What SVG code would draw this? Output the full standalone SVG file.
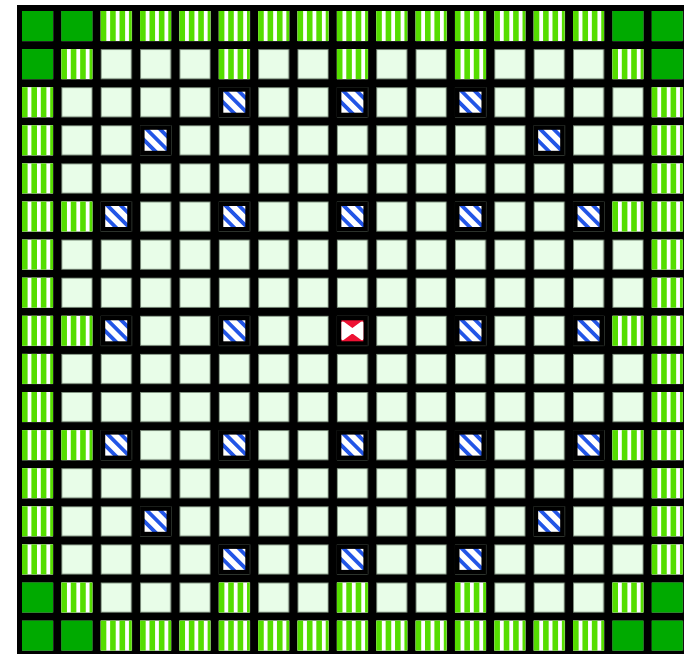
<svg xmlns="http://www.w3.org/2000/svg" xmlns:xlink="http://www.w3.org/1999/xlink" width="684" height="654" viewBox="0 0 684 654">
<defs>
<style>
.dark{fill:#00aa00}
.sg{fill:#55dd00}
.sw{fill:#ffffff}
</style>
<pattern id="pale" patternUnits="userSpaceOnUse" x="22" y="11" width="39.36" height="38.1">
<rect x="0.4" y="0.4" width="30.2" height="29.2" fill="#e8fde8" stroke="#7f927f" stroke-width="0.8"/>
</pattern>
<pattern id="blueStripe" patternUnits="userSpaceOnUse" width="9.5" height="9.5" patternTransform="rotate(-45)">
<rect width="9.5" height="9.5" fill="#ffffff"/>
<rect width="3.8" height="9.5" fill="#2255e6"/>
</pattern>
<clipPath id="redClip"><rect x="4.5" y="4.5" width="22" height="21"/></clipPath>
<g id="D"><rect width="31" height="30" class="dark"/></g>
<g id="S">
<rect width="31" height="30" class="sw"/>
<rect x="0" width="5.6" height="30" class="sg"/>
<rect x="9.4" width="5.6" height="30" class="sg"/>
<rect x="18.8" width="5.6" height="30" class="sg"/>
<rect x="28.2" width="2.8" height="30" class="sg"/>
</g>
<g id="B">
<rect width="31" height="30" fill="#000"/>
<rect x="4.5" y="4.5" width="22" height="21" fill="url(#blueStripe)"/>
</g>
<g id="R">
<rect width="31" height="30" fill="#000"/>
<rect x="4.5" y="4.5" width="22" height="21" fill="#ee1133"/>
<path clip-path="url(#redClip)" d="M6 8 L15.5 15 L6 22 Z M25 8 L15.5 15 L25 22 Z" fill="#ffffff" stroke="#ffffff" stroke-width="4.5" stroke-linejoin="round"/>
</g>
</defs>
<rect x="0" y="0" width="684" height="654" fill="#ffffff"/>
<rect x="17" y="5" width="667" height="649" fill="#000000"/>
<rect x="17" y="5" width="667" height="649" fill="url(#pale)"/>
<g id="row0">
<use href="#D" x="22" y="11"/><use href="#D" x="61.36" y="11"/>
<use href="#S" x="100.72" y="11"/><use href="#S" x="140.08" y="11"/><use href="#S" x="179.44" y="11"/><use href="#S" x="218.8" y="11"/><use href="#S" x="258.16" y="11"/><use href="#S" x="297.52" y="11"/><use href="#S" x="336.88" y="11"/><use href="#S" x="376.24" y="11"/><use href="#S" x="415.6" y="11"/><use href="#S" x="454.96" y="11"/><use href="#S" x="494.32" y="11"/><use href="#S" x="533.68" y="11"/><use href="#S" x="573.04" y="11"/>
<use href="#D" x="612.4" y="11"/><use href="#D" x="651.76" y="11"/>
</g>
<g id="row1">
<use href="#D" x="22" y="49.1"/><use href="#S" x="61.36" y="49.1"/><use href="#S" x="218.8" y="49.1"/><use href="#S" x="336.88" y="49.1"/><use href="#S" x="454.96" y="49.1"/><use href="#S" x="612.4" y="49.1"/><use href="#D" x="651.76" y="49.1"/>
</g>
<g id="row2">
<use href="#S" x="22" y="87.2"/><use href="#B" x="218.8" y="87.2"/><use href="#B" x="336.88" y="87.2"/><use href="#B" x="454.96" y="87.2"/><use href="#S" x="651.76" y="87.2"/>
</g>
<g id="row3">
<use href="#S" x="22" y="125.3"/><use href="#B" x="140.08" y="125.3"/><use href="#B" x="533.68" y="125.3"/><use href="#S" x="651.76" y="125.3"/>
</g>
<g id="row4">
<use href="#S" x="22" y="163.4"/><use href="#S" x="651.76" y="163.4"/>
</g>
<g id="row5">
<use href="#S" x="22" y="201.5"/><use href="#S" x="61.36" y="201.5"/><use href="#B" x="100.72" y="201.5"/><use href="#B" x="218.8" y="201.5"/><use href="#B" x="336.88" y="201.5"/><use href="#B" x="454.96" y="201.5"/><use href="#B" x="573.04" y="201.5"/><use href="#S" x="612.4" y="201.5"/><use href="#S" x="651.76" y="201.5"/>
</g>
<g id="row6">
<use href="#S" x="22" y="239.6"/><use href="#S" x="651.76" y="239.6"/>
</g>
<g id="row7">
<use href="#S" x="22" y="277.7"/><use href="#S" x="651.76" y="277.7"/>
</g>
<g id="row8">
<use href="#S" x="22" y="315.8"/><use href="#S" x="61.36" y="315.8"/><use href="#B" x="100.72" y="315.8"/><use href="#B" x="218.8" y="315.8"/><use href="#R" x="336.88" y="315.8"/><use href="#B" x="454.96" y="315.8"/><use href="#B" x="573.04" y="315.8"/><use href="#S" x="612.4" y="315.8"/><use href="#S" x="651.76" y="315.8"/>
</g>
<g id="row9">
<use href="#S" x="22" y="353.9"/><use href="#S" x="651.76" y="353.9"/>
</g>
<g id="row10">
<use href="#S" x="22" y="392"/><use href="#S" x="651.76" y="392"/>
</g>
<g id="row11">
<use href="#S" x="22" y="430.1"/><use href="#S" x="61.36" y="430.1"/><use href="#B" x="100.72" y="430.1"/><use href="#B" x="218.8" y="430.1"/><use href="#B" x="336.88" y="430.1"/><use href="#B" x="454.96" y="430.1"/><use href="#B" x="573.04" y="430.1"/><use href="#S" x="612.4" y="430.1"/><use href="#S" x="651.76" y="430.1"/>
</g>
<g id="row12">
<use href="#S" x="22" y="468.2"/><use href="#S" x="651.76" y="468.2"/>
</g>
<g id="row13">
<use href="#S" x="22" y="506.3"/><use href="#B" x="140.08" y="506.3"/><use href="#B" x="533.68" y="506.3"/><use href="#S" x="651.76" y="506.3"/>
</g>
<g id="row14">
<use href="#S" x="22" y="544.4"/><use href="#B" x="218.8" y="544.4"/><use href="#B" x="336.88" y="544.4"/><use href="#B" x="454.96" y="544.4"/><use href="#S" x="651.76" y="544.4"/>
</g>
<g id="row15">
<use href="#D" x="22" y="582.5"/><use href="#S" x="61.36" y="582.5"/><use href="#S" x="218.8" y="582.5"/><use href="#S" x="336.88" y="582.5"/><use href="#S" x="454.96" y="582.5"/><use href="#S" x="612.4" y="582.5"/><use href="#D" x="651.76" y="582.5"/>
</g>
<g id="row16">
<use href="#D" x="22" y="620.6"/><use href="#D" x="61.36" y="620.6"/>
<use href="#S" x="100.72" y="620.6"/><use href="#S" x="140.08" y="620.6"/><use href="#S" x="179.44" y="620.6"/><use href="#S" x="218.8" y="620.6"/><use href="#S" x="258.16" y="620.6"/><use href="#S" x="297.52" y="620.6"/><use href="#S" x="336.88" y="620.6"/><use href="#S" x="376.24" y="620.6"/><use href="#S" x="415.6" y="620.6"/><use href="#S" x="454.96" y="620.6"/><use href="#S" x="494.32" y="620.6"/><use href="#S" x="533.68" y="620.6"/><use href="#S" x="573.04" y="620.6"/>
<use href="#D" x="612.4" y="620.6"/><use href="#D" x="651.76" y="620.6"/>
</g>
</svg>
